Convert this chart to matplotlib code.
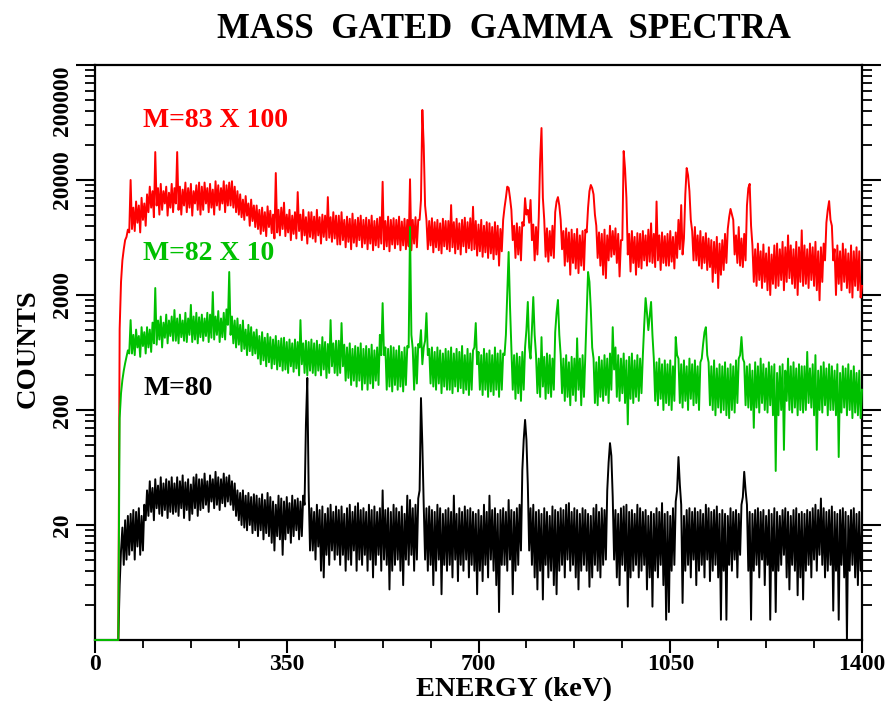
import numpy as np
import matplotlib
matplotlib.use("Agg")
import matplotlib.pyplot as plt
from matplotlib.ticker import FixedLocator, NullFormatter

plt.rcParams["font.family"] = ["Liberation Serif", "DejaVu Serif"]
plt.rcParams["font.weight"] = "bold"

# ---------------- data ----------------
# counts; value 2 = bottom of the axis (empty channels)
# *_main : channels at 0, 5, 10, ... 1400 keV   (upper edge of the noise + peaks)
# *_mid  : channels at 2.5, 7.5, ... 1397.5 keV (lower edge of the noise)
red_main = [
    2, 2, 2, 2, 2, 2, 2, 2, 2,
    1010, 4000, 6000, 7400, 20000, 11500, 13000, 12000, 14000, 12500,
    15000, 17500, 16000, 35000, 17000, 18500, 16000, 17500, 15500, 18500,
    17000, 35000, 17500, 16500, 19000, 17000, 18500, 16000, 18000, 19000,
    17500, 19000, 17000, 18500, 16500, 19500, 18000, 17000, 19500, 18000,
    19000, 19500, 17500, 16000, 15000, 13500, 14500, 12500, 13500, 12000,
    12000, 11000, 11500, 10500, 11800, 10800, 10000, 23000, 11000, 11500,
    12700, 10000, 11000, 9800, 10500, 15700, 10000, 11000, 9500, 10500,
    10500, 9600, 11000, 9500, 10000, 9800, 14200, 9500, 10500, 9800,
    9800, 10500, 9000, 9600, 9200, 10200, 9000, 9400, 9800, 9000,
    9400, 9000, 9800, 8800, 9200, 9500, 19300, 8800, 9600, 9000,
    9300, 9000, 9600, 8700, 9200, 9000, 20300, 9000, 9500, 9000,
    13400, 40000, 9000, 8800, 9300, 8600, 9000, 8400, 9200, 8800,
    8800, 12100, 8600, 9200, 8400, 9000, 9400, 8600, 9300, 11700,
    8800, 8200, 9000, 8000, 8600, 8400, 7800, 8600, 8000, 7500,
    9000, 14000, 17100, 11000, 8000, 8400, 7800, 8600, 13900, 11000,
    13400, 8200, 7800, 9500, 56600, 9000, 7600, 7200, 8000, 10500,
    14200, 9000, 7200, 7600, 7000, 7400, 6800, 7500, 6600, 7200,
    7400, 11500, 18100, 15000, 8000, 7000, 6800, 7400, 6600, 8000,
    7200, 7600, 6800, 6000, 35700, 14000, 6800, 7200, 6400, 6900,
    6800, 7200, 6600, 7400, 8400, 6800, 13000, 6600, 7000, 6500,
    6800, 7200, 6400, 7000, 9000, 12100, 6200, 25400, 16000, 7200,
    7800, 6600, 7200, 6400, 6900, 6200, 6000, 5800, 6400, 5600,
    6000, 6800, 7500, 11200, 9000, 6600, 7800, 6200, 6800, 12000,
    18500, 5400, 5000, 5600, 4800, 5500, 4600, 5200, 4500, 5400,
    5600, 5000, 5800, 5200, 6600, 5400, 5000, 5800, 5200, 7300,
    5400, 5000, 5600, 5200, 5800, 4800, 5200, 5600, 8500, 13100,
    8000, 5000, 5400, 4800, 5600, 5000, 4600, 5400, 4800, 5200,
    4800, 2400,
]
red_mid = [
    2, 2, 2, 2, 2, 2, 2, 2, 2,
    2600, 5000, 6400, 7000, 7500, 7200, 8500, 7000, 9000, 8000,
    10500, 11500, 9500, 12000, 10000, 11000, 12500, 9800, 11500, 10500,
    12500, 11000, 10000, 12000, 10500, 11500, 9800, 12500, 11000, 10000,
    11000, 12500, 10500, 11500, 10000, 12000, 11000, 12500, 10500, 12000,
    12000, 11500, 10500, 10000, 9500, 9000, 9800, 8000, 8800, 7800,
    7500, 6800, 7200, 6500, 7800, 6900, 6200, 7000, 6600, 7500,
    6500, 7000, 6000, 6800, 6200, 7200, 6000, 6600, 5600, 6400,
    6200, 5800, 6600, 5600, 6400, 6000, 6300, 5800, 6200, 5500,
    5500, 6000, 5200, 5800, 5000, 5700, 5300, 6000, 5200, 5600,
    5000, 5600, 4900, 5400, 5200, 5600, 5000, 5300, 4800, 5500,
    5100, 5500, 4900, 5400, 5000, 5300, 4900, 5600, 5200, 9000,
    81300, 12000, 5000, 5400, 4700, 5200, 4900, 4600, 5300, 5000,
    4800, 5200, 4600, 5000, 4500, 5300, 4700, 5100, 4900, 5000,
    4400, 4800, 4300, 4700, 4200, 4600, 4100, 4500, 3600, 4800,
    11500, 17500, 14000, 6000, 4200, 4500, 4000, 8000, 10000, 8500,
    6000, 4000, 4500, 30000, 14000, 4300, 3900, 4400, 4200, 13000,
    12000, 5000, 3600, 3900, 3000, 3800, 3400, 3100, 3600, 3300,
    7000, 16000, 17000, 10000, 4200, 3600, 3000, 2800, 4000, 4300,
    4500, 3800, 2900, 6000, 25000, 4500, 3200, 3800, 3000, 3500,
    3400, 4000, 3600, 3900, 3800, 3500, 4000, 3300, 3800, 3600,
    3600, 3900, 3400, 4200, 5000, 4500, 15000, 22000, 9000, 4000,
    4000, 3600, 3400, 3800, 3300, 3500, 2600, 3100, 2300, 3000,
    3300, 3800, 9500, 10000, 4500, 3800, 3600, 3500, 4000, 17000,
    8000, 2600, 2400, 2700, 2300, 2600, 2200, 2000, 2500, 2300,
    2400, 2700, 2200, 2600, 2800, 2500, 2300, 2000, 2600, 2400,
    2500, 2300, 2700, 2400, 2200, 1800, 2600, 4000, 11000, 9000,
    4000, 2000, 2500, 2200, 2600, 2300, 2100, 1900, 2400, 2200,
    1900,
]

green_main = [
    2, 2, 2, 2, 2, 2, 2, 2, 2,
    170, 365, 510, 660, 1210, 900, 1000, 880, 1050, 950,
    1050, 1000, 1150, 2300, 1200, 1300, 1150, 1350, 1200, 1300,
    1480, 1250, 1350, 1200, 1400, 1250, 1640, 1300, 1400, 1280,
    1350, 1250, 1400, 1350, 2120, 1300, 1450, 1250, 1400, 1500,
    3170, 1300, 1200, 1250, 1100, 1200, 1000, 1100, 1050, 950,
    1000, 880, 950, 850, 920, 860, 820, 880, 800, 840,
    850, 780, 820, 760, 820, 780, 1210, 760, 800, 780,
    820, 760, 800, 740, 860, 780, 750, 1210, 760, 800,
    800, 1140, 740, 700, 760, 680, 720, 700, 760, 680,
    720, 680, 740, 660, 700, 900, 1700, 700, 680, 720,
    700, 660, 720, 640, 700, 720, 7800, 680, 700, 750,
    990, 700, 1390, 680, 700, 640, 700, 660, 620, 680,
    650, 700, 620, 680, 640, 720, 600, 680, 620, 660,
    1140, 640, 600, 680, 620, 660, 600, 700, 620, 660,
    620, 900, 4730, 700, 600, 620, 580, 640, 700, 1740,
    560, 1920, 600, 560, 860, 580, 620, 600, 560, 950,
    1810, 600, 560, 600, 520, 580, 560, 840, 560, 600,
    620, 3170, 1500, 560, 520, 580, 540, 600, 560, 620,
    1050, 700, 600, 560, 620, 540, 580, 620, 540, 600,
    560, 600, 1880, 990, 1740, 560, 520, 560, 500, 540,
    500, 540, 480, 862, 560, 500, 540, 480, 560, 500,
    540, 480, 520, 750, 1050, 520, 480, 540, 460, 500,
    480, 520, 460, 500, 480, 540, 560, 862, 520, 480,
    500, 440, 520, 480, 560, 500, 460, 520, 480, 500,
    420, 480, 500, 440, 560, 480, 520, 460, 500, 480,
    480, 640, 460, 500, 600, 440, 480, 520, 460, 500,
    480, 440, 500, 420, 480, 460, 500, 440, 480, 420,
    440, 300,
]
green_mid = [
    2, 2, 2, 2, 2, 2, 2, 2, 2,
    280, 440, 580, 620, 620, 600, 700, 580, 720, 620,
    700, 640, 760, 740, 820, 700, 850, 760, 880, 800,
    800, 760, 860, 800, 780, 900, 780, 820, 760, 860,
    800, 880, 780, 850, 820, 900, 780, 860, 820, 1100,
    900, 760, 700, 740, 650, 680, 600, 650, 600, 620,
    560, 500, 540, 480, 520, 460, 500, 450, 480, 440,
    450, 420, 480, 430, 460, 400, 500, 420, 400, 440,
    420, 400, 440, 400, 450, 380, 420, 480, 420, 400,
    420, 480, 360, 380, 330, 360, 320, 360, 300, 340,
    300, 340, 310, 360, 330, 600, 600, 300, 320, 290,
    330, 300, 320, 290, 330, 700, 900, 300, 340, 700,
    500, 800, 600, 340, 320, 300, 340, 280, 320, 300,
    300, 280, 320, 290, 310, 280, 300, 270, 300, 700,
    500, 300, 270, 300, 260, 290, 270, 300, 260, 300,
    600, 2000, 1600, 300, 250, 280, 240, 300, 1000, 700,
    1000, 900, 280, 260, 320, 250, 280, 260, 300, 1400,
    900, 280, 240, 260, 220, 270, 240, 300, 220, 260,
    1400, 2600, 700, 230, 220, 260, 240, 270, 230, 300,
    450, 260, 240, 280, 230, 150, 250, 230, 260, 240,
    280, 1100, 1400, 1300, 900, 240, 220, 250, 200, 230,
    220, 200, 240, 600, 230, 210, 240, 200, 250, 220,
    230, 200, 560, 950, 600, 220, 200, 180, 210, 190,
    200, 180, 170, 200, 190, 230, 600, 560, 220, 210,
    200, 140, 210, 190, 230, 200, 190, 220, 180, 59,
    180, 200, 90, 240, 200, 190, 210, 180, 200, 190,
    200, 230, 210, 180, 90, 200, 190, 220, 180, 200,
    200, 180, 78, 190, 210, 180, 200, 170, 190, 180,
    170,
]

black_main = [
    2, 2, 2, 2, 2, 2, 2, 2, 2,
    6, 19, 22, 24, 25, 27, 26, 28, 24, 30,
    40, 48, 42, 50, 44, 52, 46, 50, 48, 52,
    46, 52, 48, 54, 47, 50, 45, 52, 55, 50,
    50, 56, 48, 54, 50, 58, 52, 50, 56, 52,
    54, 48, 46, 40, 38, 40, 36, 38, 35, 37,
    36, 34, 37, 33, 38, 35, 32, 30, 36, 34,
    32, 35, 31, 36, 33, 34, 32, 36, 150, 40,
    28, 26, 30, 27, 29, 25, 28, 30, 26, 29,
    27, 29, 25, 28, 30, 26, 29, 31, 27, 28,
    26, 30, 27, 29, 26, 28, 40, 27, 28, 26,
    30, 28, 26, 29, 25, 36, 33, 28, 30, 34,
    254, 30, 28, 29, 27, 26, 30, 28, 25, 27,
    28, 26, 36, 25, 28, 26, 29, 27, 28, 26,
    25, 27, 24, 30, 26, 36, 27, 28, 25, 27,
    28, 26, 33, 27, 26, 28, 30, 60, 164, 45,
    28, 30, 26, 27, 25, 28, 26, 24, 29, 27,
    26, 28, 27, 30, 31, 26, 28, 27, 25, 28,
    27, 25, 24, 28, 30, 26, 28, 27, 40, 103,
    35, 27, 25, 28, 29, 30, 26, 27, 25, 30,
    28, 26, 27, 24, 26, 25, 28, 26, 31, 25,
    26, 24, 28, 32, 78, 30, 24, 27, 28, 26,
    28, 26, 27, 25, 30, 28, 26, 27, 29, 25,
    27, 25, 24, 28, 26, 27, 25, 30, 58, 30,
    26, 25, 27, 28, 26, 27, 24, 27, 25, 28,
    26, 24, 27, 28, 26, 24, 27, 28, 25, 26,
    25, 27, 26, 28, 30, 27, 34, 28, 26, 27,
    29, 26, 25, 27, 28, 26, 24, 27, 28, 25,
    26, 18,
]
black_mid = [
    2, 2, 2, 2, 2, 2, 2, 2, 2,
    12, 9, 10, 11, 12, 10, 13, 11, 12, 22,
    24, 26, 22, 28, 25, 24, 27, 23, 26, 25,
    26, 24, 28, 23, 27, 22, 25, 28, 24, 27,
    28, 30, 26, 32, 28, 30, 27, 31, 29, 32,
    30, 27, 24, 22, 20, 19, 18, 20, 17, 18,
    16, 18, 15, 17, 16, 14, 12, 16, 15, 11,
    15, 17, 14, 16, 18, 15, 16, 30, 380, 12,
    12, 10, 13, 8, 7, 11, 9, 12, 10, 11,
    9, 11, 8, 10, 9, 12, 8, 10, 9, 11,
    8, 10, 7, 9, 11, 8, 10, 9, 5.5, 8,
    9, 10, 8, 6, 10, 9, 11, 8, 10, 40,
    100, 10, 8, 9, 6, 8, 10, 5, 9, 8,
    9, 7, 10, 6.5, 9, 8, 10, 7, 9, 8,
    5, 8, 6.5, 9, 7, 10, 8, 6, 3.5, 9,
    9, 8, 10, 5, 8, 9, 12, 110, 110, 12,
    9, 7, 5.5, 8, 4.5, 9, 7, 8, 6, 5,
    8, 9, 7, 10, 8, 9, 7, 5.5, 8, 9,
    8, 5.8, 7, 9, 8, 7, 9, 10, 70, 80,
    10, 7, 6, 9, 8, 3.9, 7, 8, 9, 7,
    8, 9, 5.5, 7, 3.9, 8, 7, 9, 6, 3,
    3.5, 8, 9, 40, 45, 4.2, 8, 9, 7, 10,
    6, 8, 9, 7, 10, 6.5, 8, 9, 7, 3,
    8, 3, 9, 8, 10, 7, 11, 35, 40, 8,
    3, 8, 9, 7, 10, 6, 9, 3, 8, 3.5,
    8, 9, 11, 7, 5.5, 9, 8, 4.9, 7, 4.5,
    8, 9, 7, 10, 8, 11, 9, 7, 8, 9,
    3.6, 8, 3, 9, 7, 2, 8, 9, 7, 6,
    8,
]

series_labels = ["M=83 X 100", "M=82 X 10", "M=80"]
series_colors = ["#ff0000", "#00c000", "#000000"]

x_ticks = [0, 350, 700, 1050, 1400]
x_tick_labels = ["0", "350", "700", "1050", "1400"]
y_ticks = [20, 200, 2000, 20000, 200000]
y_tick_labels = ["20", "200", "2000", "20000", "200000"]

title = "MASS  GATED  GAMMA  SPECTRA"
x_title = "ENERGY (keV)"
y_title = "COUNTS"


def merge(main, mid):
    out = np.empty(len(main) + len(mid))
    out[0::2] = main
    out[1::2] = mid
    return out


energy_kev = np.arange(0, 1400.01, 2.5)
red = merge(red_main, red_mid)
green = merge(green_main, green_mid)
black = merge(black_main, black_mid)

# ---------------- figure ----------------
W, H = 888, 701
fig = plt.figure(figsize=(W / 100, H / 100), dpi=100)
ax = fig.add_axes([95 / W, 61 / H, 767 / W, 575 / H])

ax.set_yscale("log")
ax.set_xlim(0, 1400)
ax.set_ylim(2, 200000)

lw = 1.4
ax.plot(energy_kev, black, color=series_colors[2], lw=lw, zorder=3, clip_on=False)
ax.plot(energy_kev, red, color=series_colors[0], lw=lw, zorder=3, clip_on=False)
ax.plot(energy_kev, green, color=series_colors[1], lw=lw, zorder=3, clip_on=False)

# ticks
ax.xaxis.set_major_locator(FixedLocator(x_ticks))
ax.set_xticklabels(x_tick_labels, fontsize=17, fontweight="bold")
ax.xaxis.set_minor_locator(FixedLocator(np.arange(0, 1400.1, 87.5)))
ax.xaxis.set_minor_formatter(NullFormatter())

ax.yaxis.set_major_locator(FixedLocator(y_ticks))
ax.set_yticklabels(y_tick_labels, fontsize=17, fontweight="bold",
                   rotation=90, va="center")
y_minor = [2 * m * 10 ** n for n in range(0, 5) for m in range(2, 10)]
ax.yaxis.set_minor_locator(FixedLocator(y_minor))
ax.yaxis.set_minor_formatter(NullFormatter())
ax.get_yticklabels()[-1].set_va("top")

ax.tick_params(axis="y", which="major", direction="out", length=14, width=1.5,
               left=True, right=True, pad=2)
ax.tick_params(axis="y", which="minor", direction="out", length=7.5, width=1.3,
               left=True, right=True)
ax.tick_params(axis="x", which="major", direction="out", length=9, width=1.5,
               top=False, pad=1)
ax.tick_params(axis="x", which="minor", direction="out", length=6, width=1.3,
               top=False)
for s in ax.spines.values():
    s.set_linewidth(1.6)

# series labels
ax.text(0.0626, 0.892, series_labels[0], color=series_colors[0], fontsize=20,
        fontweight="bold", transform=ax.transAxes, va="baseline")
ax.text(0.0626, 0.661, series_labels[1], color=series_colors[1], fontsize=20,
        fontweight="bold", transform=ax.transAxes, va="baseline")
ax.text(0.0626, 0.426, series_labels[2], color=series_colors[2], fontsize=20,
        fontweight="bold", transform=ax.transAxes, va="baseline")

fig.text(504 / W, 1 - 38 / H, title, ha="center", va="baseline",
         fontsize=25, fontweight="bold")
fig.text(514 / W, 1 - 696 / H, x_title, ha="center", va="baseline",
         fontsize=20.5, fontweight="bold")
fig.text(28 / W, 1 - 349 / H, y_title, ha="center", va="center",
         rotation=90, fontsize=20.5, fontweight="bold")

fig.savefig("out.png", dpi=100)
